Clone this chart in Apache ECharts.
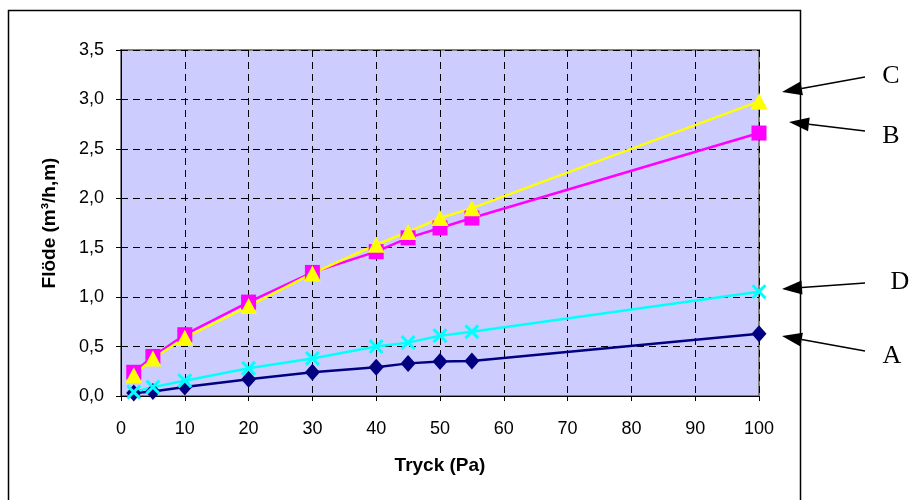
<!DOCTYPE html>
<html>
<head>
<meta charset="utf-8">
<script src="https://cdn.jsdelivr.net/npm/echarts@6/dist/echarts.min.js"></script>
<style>
  html, body { margin: 0; padding: 0; background: #fff; }
  #chart { width: 912px; height: 500px; }
</style>
</head>
<body>
<div id="chart"></div>
<script>
// tryck (Pa)
const tryck = [2, 5, 10, 20, 30, 40, 45, 50, 55, 100]
// flöde per serie
const serieA = [0.03, 0.045, 0.09, 0.17, 0.24, 0.29, 0.33, 0.35, 0.355, 0.63]
const serieB = [0.24, 0.40, 0.62, 0.95, 1.25, 1.46, 1.60, 1.70, 1.80, 2.66]
const serieC = [0.21, 0.38, 0.59, 0.91, 1.24, 1.53, 1.66, 1.80, 1.90, 2.98]
const serieD = [0.04, 0.09, 0.155, 0.28, 0.38, 0.50, 0.54, 0.61, 0.65, 1.055]
const yTicks = [0, 0.5, 1.0, 1.5, 2.0, 2.5, 3.0, 3.5]

const pairs = (ys) => tryck.map((x, i) => [x, ys[i]])

const crossPath = 'path://M2,0 L7,5 L12,0 L14,2 L9,7 L14,12 L12,14 L7,9 L2,14 L0,12 L5,7 L0,2 Z'

// pil med spets och linje
function arrow(tip, tail) {
  const dx = tail[0] - tip[0], dy = tail[1] - tip[1]
  const len = Math.sqrt(dx * dx + dy * dy)
  const ux = dx / len, uy = dy / len
  const bx = tip[0] + ux * 20, by = tip[1] + uy * 20
  const px = -uy * 7, py = ux * 7
  return [
    {
      type: 'line',
      shape: {x1: bx, y1: by, x2: tail[0], y2: tail[1]},
      style: {stroke: '#000', lineWidth: 1.5}
    },
    {
      type: 'polygon',
      shape: {points: [tip, [bx + px, by + py], [bx - px, by - py]]},
      style: {fill: '#000'}
    }
  ]
}

function letter(text, x, y) {
  return {
    type: 'text',
    x: x, y: y,
    style: {
      text: text,
      font: '26px "Liberation Serif", "Times New Roman", serif',
      fill: '#000',
      align: 'center',
      verticalAlign: 'middle'
    }
  }
}

const chart = echarts.init(document.getElementById('chart'))

const option = {
  animation: false,
  grid: {
    left: 121,
    right: 153,
    top: 50,
    bottom: 104,
    show: true,
    backgroundColor: '#ccccff',
    borderColor: '#808080',
    borderWidth: 2
  },
  xAxis: {
    type: 'value',
    min: 0,
    max: 100,
    interval: 10,
    name: 'Tryck (Pa)',
    nameLocation: 'middle',
    nameGap: 60,
    nameTextStyle: {fontFamily: 'Liberation Sans, Arial', fontSize: 19, fontWeight: 'bold', color: '#000'},
    axisLine: {lineStyle: {color: '#000', width: 1}},
    axisTick: {length: 5, lineStyle: {color: '#000'}},
    axisLabel: {fontFamily: 'Liberation Sans, Arial', fontSize: 18, color: '#000', margin: 24},
    splitLine: {lineStyle: {color: '#000', type: [7, 5], width: 1}}
  },
  yAxis: {
    type: 'value',
    min: 0,
    max: 3.5,
    interval: 0.5,
    name: 'Flöde (m³/h,m)',
    nameLocation: 'middle',
    nameGap: 62,
    nameTextStyle: {fontFamily: 'Liberation Sans, Arial', fontSize: 19, fontWeight: 'bold', color: '#000'},
    axisLine: {show: true, lineStyle: {color: '#000', width: 1}},
    axisTick: {show: true, length: 5, lineStyle: {color: '#000'}},
    axisLabel: {
      fontFamily: 'Liberation Sans, Arial', fontSize: 18, color: '#000', margin: 17,
      formatter: v => yTicks.includes(v) ? v.toFixed(1).replace('.', ',') : ''
    },
    splitLine: {lineStyle: {color: '#000', type: [7, 5], width: 1}}
  },
  series: [
    {
      name: 'A', type: 'line', data: pairs(serieA),
      symbol: 'diamond', symbolSize: [15, 17],
      lineStyle: {color: '#000080', width: 2.5},
      itemStyle: {color: '#000080'}
    },
    {
      name: 'D', type: 'line', data: pairs(serieD),
      symbol: crossPath, symbolSize: 15,
      lineStyle: {color: '#00ffff', width: 2.5},
      itemStyle: {color: '#00ffff'}
    },
    {
      name: 'B', type: 'line', data: pairs(serieB),
      symbol: 'rect', symbolSize: 15,
      lineStyle: {color: '#ff00ff', width: 2.5},
      itemStyle: {color: '#ff00ff'}
    },
    {
      name: 'C', type: 'line', data: pairs(serieC),
      symbol: 'triangle', symbolSize: [17, 16],
      lineStyle: {color: '#ffff00', width: 2.5},
      itemStyle: {color: '#ffff00'}
    }
  ],
  graphic: [
    {
      type: 'rect',
      shape: {x: 8.5, y: 10.5, width: 792, height: 520},
      style: {fill: 'none', stroke: '#000', lineWidth: 1.5}
    },
    ...arrow([782, 92], [865, 77]),
    ...arrow([789, 122], [865, 131]),
    ...arrow([782, 289], [865, 283]),
    ...arrow([782, 336], [865, 351]),
    letter('C', 891, 76),
    letter('B', 891, 136),
    letter('D', 900, 282),
    letter('A', 892, 356)
  ]
}

chart.setOption(option)
</script>
</body>
</html>
